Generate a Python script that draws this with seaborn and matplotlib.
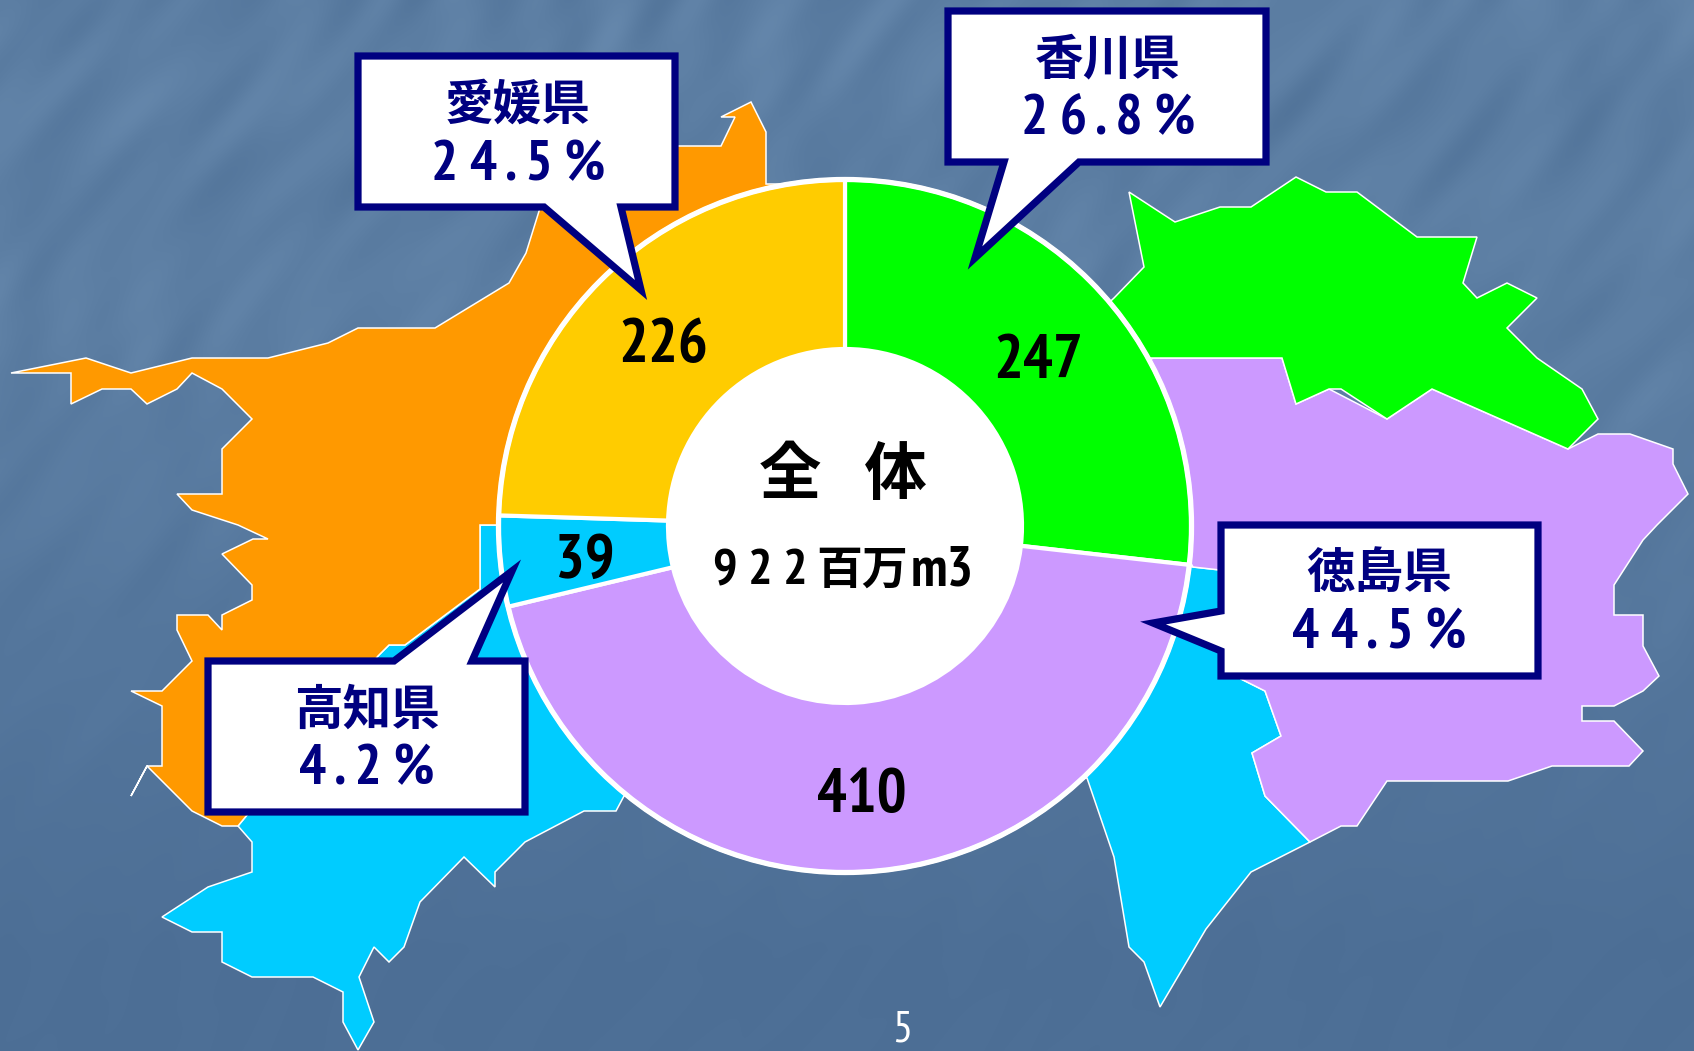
import numpy as np
import matplotlib.pyplot as plt
from matplotlib.patches import Polygon
import seaborn as sns

# water use by prefecture, clockwise from the top of the ring
prefectures = ['香川県', '徳島県', '高知県', '愛媛県']
volumes = [247, 410, 39, 226]
shares = [26.8, 44.5, 4.2, 24.5]
ring_colors = ['#00FF00', '#CC99FF', '#00CCFF', '#FFCC00']
total_label = '全   体'
total_value = 922
total_unit = '百万'
total_suffix = 'm3'
page_number = '5'

W, H = 1694, 1051
NAVY = '#000080'
CJK = ['Noto Sans CJK JP', 'DejaVu Sans']
NARROW = ['PT Sans Narrow', 'Liberation Sans', 'Noto Sans CJK JP']

# the map behind the ring, in picture pixels (decoration only)
ehime_shape = [(11, 373), (86, 358), (131, 373), (192, 358), (268, 358), (328, 343), (358, 328),
               (435, 328), (509, 283), (526, 253), (540, 208), (600, 146), (680, 146), (721, 146),
               (735, 117), (721, 117), (751, 102), (766, 132), (766, 184), (850, 184), (850, 525),
               (480, 525), (480, 589), (405, 645), (389, 645), (378, 656), (238, 826), (222, 826),
               (192, 811), (147, 766), (131, 796), (147, 766), (162, 766), (162, 706), (131, 691),
               (162, 691), (192, 661), (177, 630), (177, 615), (208, 615), (222, 630), (222, 615),
               (252, 600), (252, 585), (222, 554), (253, 539), (268, 539), (238, 525), (192, 510),
               (177, 494), (222, 494), (222, 449), (252, 419), (222, 389), (192, 373), (177, 389),
               (147, 404), (131, 389), (102, 389), (71, 404), (71, 373)]
kochi_shape = [(238, 826), (252, 842), (252, 872), (208, 887), (162, 917), (192, 932), (222, 932),
               (222, 962), (252, 977), (313, 977), (343, 992), (343, 1022), (358, 1050), (374, 1022),
               (359, 977), (374, 947), (389, 962), (404, 947), (420, 902), (464, 857), (495, 887),
               (495, 872), (525, 842), (584, 811), (616, 811), (624, 796), (1087, 778), (1114, 857),
               (1129, 947), (1144, 962), (1160, 1007), (1206, 929), (1251, 872), (1310, 842),
               (1265, 796), (1252, 753), (1281, 736), (1265, 691), (1241, 679), (1220, 570),
               (1193, 567), (850, 525), (480, 525), (480, 589), (405, 645), (389, 645), (378, 656)]
tokushima_shape = [(1153, 358), (1282, 358), (1296, 404), (1329, 389), (1387, 419), (1432, 389),
                   (1568, 449), (1598, 434), (1630, 434), (1673, 449), (1673, 464), (1688, 494),
                   (1657, 525), (1643, 540), (1614, 585), (1614, 615), (1643, 615), (1643, 646),
                   (1659, 676), (1643, 691), (1614, 706), (1582, 706), (1582, 721), (1614, 721),
                   (1643, 751), (1629, 766), (1552, 766), (1508, 781), (1387, 781), (1357, 826),
                   (1341, 826), (1310, 842), (1265, 796), (1252, 753), (1281, 736), (1265, 691),
                   (1241, 679), (1220, 570), (1193, 567), (1100, 400)]
kagawa_shape = [(1129, 192), (1175, 222), (1220, 207), (1251, 207), (1296, 177), (1326, 192),
                (1357, 192), (1417, 237), (1477, 237), (1463, 283), (1477, 298), (1507, 283),
                (1537, 298), (1507, 328), (1537, 358), (1582, 389), (1598, 419), (1568, 449),
                (1432, 389), (1387, 419), (1341, 389), (1329, 389), (1296, 404), (1282, 358),
                (1153, 358), (1090, 358), (1090, 320), (1114, 298), (1144, 267)]

# callout outlines: box then pointer
callouts = {
    '香川県': [(948, 11), (1266, 11), (1266, 162), (1079, 162), (975, 258), (1004, 162), (948, 162)],
    '徳島県': [(1221, 525), (1538, 525), (1538, 676), (1221, 676), (1221, 651), (1153, 623), (1221, 611)],
    '高知県': [(208, 661), (394, 661), (512, 571), (472, 661), (525, 661), (525, 812), (208, 812)],
    '愛媛県': [(358, 56), (675, 56), (675, 207), (621, 207), (641, 290), (544, 207), (358, 207)],
}
callout_text = {'香川県': (1108, 57, 120), '徳島県': (1379, 570, 634),
                '高知県': (367, 707, 770), '愛媛県': (518, 102, 166)}
volume_xy = [(1038, 362), (862, 796), (585, 562), (663, 346)]


def draw_background(ax):
    y, x = np.mgrid[0:H, 0:W]
    u = x * 0.87 + y * 0.5
    v = -x * 0.5 + y * 0.87
    # soft streaks running up to the right, fading out towards the bottom
    streak = (np.sin(u / 13.0 + np.sin(v / 83.0) * 2.5) * np.sin(v / 71.0 + u / 190.0)
              + 0.7 * np.sin(u / 37.0 + v / 230.0) * np.sin(v / 47.0 - u / 97.0)
              + 0.5 * np.sin(u / 7.3 + v / 61.0) * np.sin(v / 113.0 + u / 53.0))
    fade = np.clip(1 - y / 900.0, 0.1, 1)
    shade = np.clip((y - 350) / 600.0, 0, 1)
    top, bottom = np.array([92, 126, 163]), np.array([77, 111, 150])
    img = top + (bottom - top) * shade[..., None]
    img = img + (streak * fade * 5)[..., None] * np.array([1.0, 1.0, 0.95])
    ax.imshow(np.clip(img, 0, 255).astype(np.uint8), extent=(0, W, H, 0), aspect='auto')


sns.set_theme(style='white')
palette = sns.color_palette(ring_colors)
plt.rcParams['font.family'] = CJK

fig = plt.figure(figsize=(W / 100, H / 100), dpi=100)

# background and map
bg = fig.add_axes([0, 0, 1, 1], zorder=1)
draw_background(bg)
for shape, color in [(kochi_shape, '#00CCFF'), (ehime_shape, '#FF9900'),
                     (tokushima_shape, '#CC99FF'), (kagawa_shape, '#00FF00')]:
    bg.add_patch(Polygon(shape, closed=True, facecolor=color, edgecolor='white', linewidth=1.1))
bg.set_xlim(0, W)
bg.set_ylim(H, 0)
bg.axis('off')

# ring
cx, cy, r_outer, r_inner, pad = 845, 526, 346.5, 177, 1.03
ring = fig.add_axes([(cx - r_outer * pad) / W, 1 - (cy + r_outer * pad) / H,
                     2 * r_outer * pad / W, 2 * r_outer * pad / H], zorder=2)
ring.pie(volumes, colors=palette, startangle=90, counterclock=False, radius=1,
         wedgeprops=dict(width=1 - r_inner / r_outer, edgecolor='white', linewidth=3.0))
ring.add_patch(plt.Circle((0, 0), r_inner / r_outer, color='white', zorder=5))
ring.add_patch(plt.Circle((0, 0), 1, fill=False, edgecolor='white', linewidth=3.8, zorder=5))
ring.set_xlim(-pad, pad)
ring.set_ylim(-pad, pad)
ring.axis('off')

# labels and callouts
top = fig.add_axes([0, 0, 1, 1], zorder=3)
top.set_xlim(0, W)
top.set_ylim(H, 0)
top.axis('off')

for v, (x, y) in zip(volumes, volume_xy):
    top.text(x, y, str(v), fontsize=45, family=NARROW, fontweight='bold', ha='center', va='center', color='black')

top.text(843, 475, total_label, fontsize=45, fontweight='bold', ha='center', va='center', color='black')
top.text(808, 572, ' '.join(str(total_value)), fontsize=37, family=NARROW, fontweight='bold',
         ha='right', va='center', color='black')
top.text(862, 571, total_unit, fontsize=33, fontweight='bold', ha='center', va='center', color='black')
top.text(911, 571, total_suffix, fontsize=40, family=NARROW, fontweight='bold', ha='left', va='center', color='black')
top.text(902, 1050, page_number, fontsize=32, family=NARROW, ha='center', va='bottom', color='white')

for name, share in zip(prefectures, shares):
    top.add_patch(Polygon(callouts[name], closed=True, facecolor='white', edgecolor=NAVY,
                          linewidth=5.2, joinstyle='miter'))
    x, y1, y2 = callout_text[name]
    top.text(x, y1 + 3, name, fontsize=35, fontweight='bold', ha='center', va='center', color=NAVY)
    top.text(x, y2, ' '.join(f'{share}%'), fontsize=41, family=NARROW, fontweight='bold',
             ha='center', va='center', color=NAVY)

fig.savefig('out.png', dpi=100)
